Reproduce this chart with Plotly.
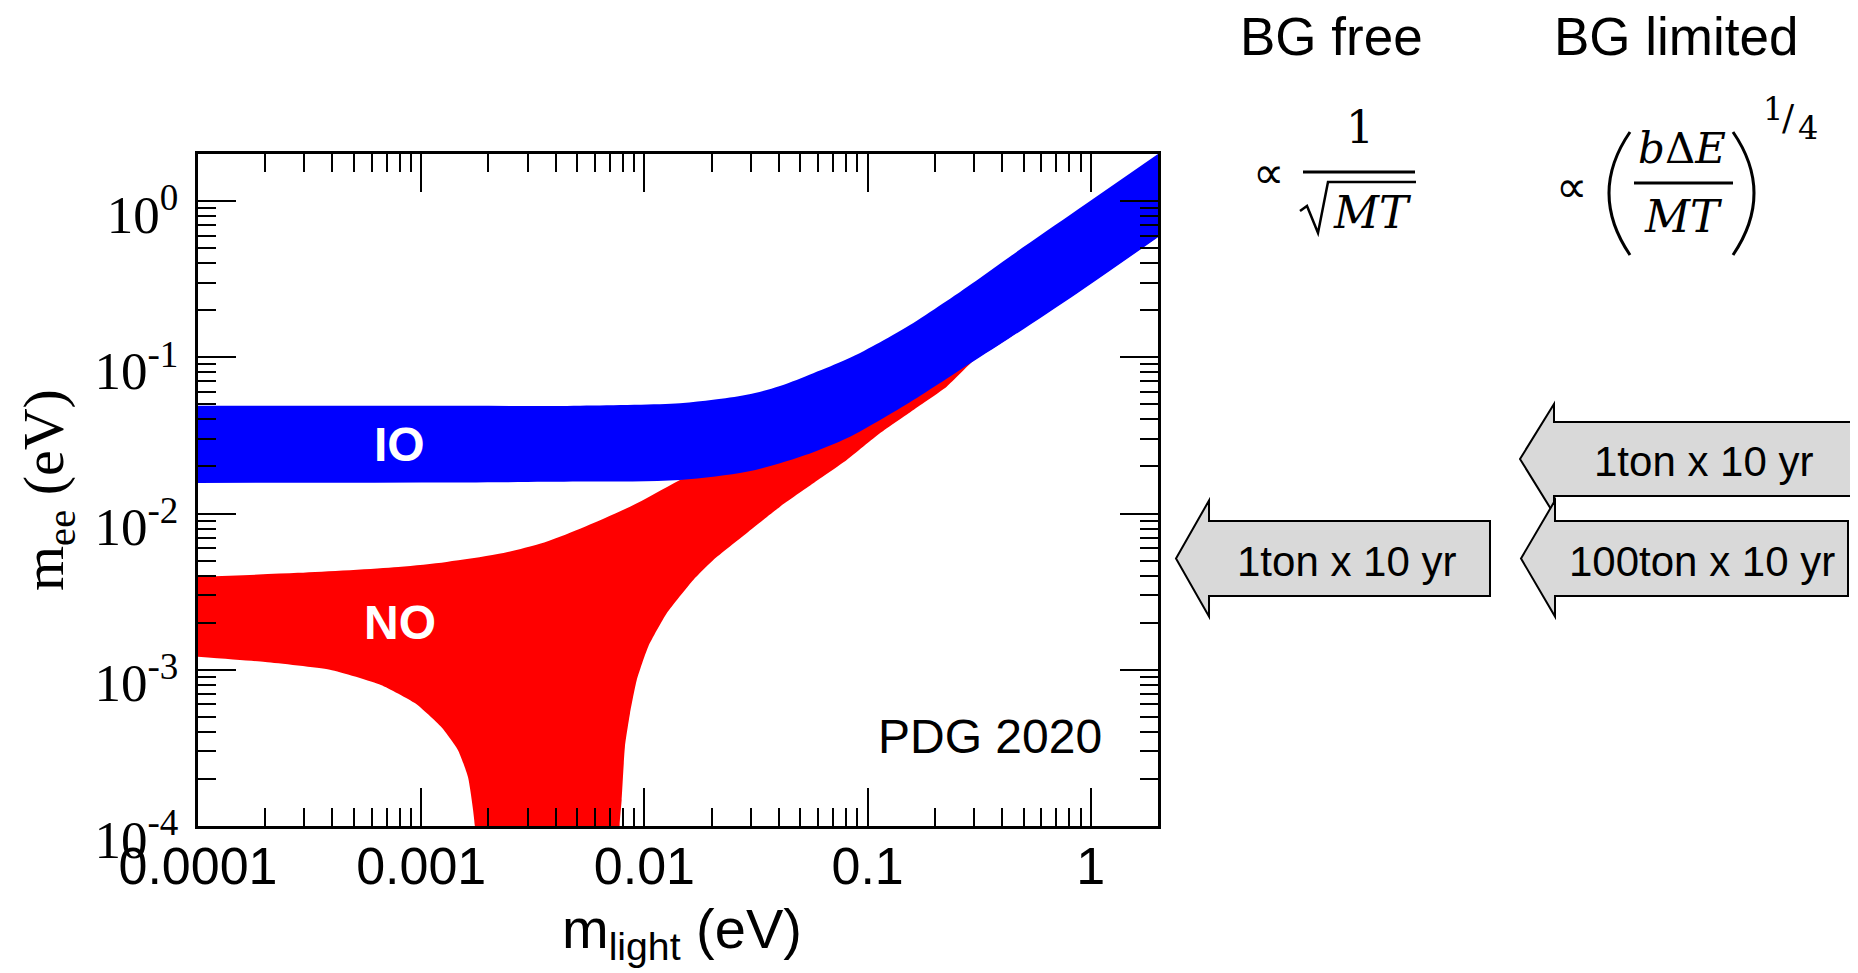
import math
import plotly.graph_objects as go

# ---------------- data ----------------
# Inverted ordering (IO) band: m_light (eV) -> m_ee bounds (eV)
io_x = [1e-4, 1e-3, 5.15e-3, 0.01443, 0.0203, 0.0287, 0.0405, 0.0571,
        0.0806, 0.1138, 0.1603, 0.226, 0.319, 0.44, 0.877, 2.0]
io_upper = [0.0489, 0.0489, 0.0490, 0.0508, 0.0534, 0.0575, 0.0655, 0.0791,
            0.0970, 0.125, 0.166, 0.229, 0.322, 0.447, 0.885, 2.0]
io_x_lo = [1e-4, 1e-3, 5.15e-3, 0.01443, 0.0287, 0.0405, 0.0571, 0.0806,
           0.1138, 0.1603, 0.226, 0.297, 0.392, 0.877, 2.0]
io_lower = [0.0157, 0.0158, 0.0160, 0.0164, 0.0185, 0.0210, 0.0247, 0.0303,
            0.0397, 0.0533, 0.0730, 0.094, 0.121, 0.259, 0.587]

# Normal ordering (NO) band: upper edge
no_up_x = [1e-4, 2.8e-4, 7.9e-4, 1.3e-3, 2.2e-3, 3.4e-3, 5.15e-3, 8.62e-3,
           0.01443, 0.0287, 0.0571, 0.1138, 0.226, 0.877, 2.0]
no_upper = [0.00393, 0.00417, 0.00455, 0.0049, 0.0055, 0.0064, 0.0080,
            0.01106, 0.0164, 0.028, 0.056, 0.11, 0.215, 0.87, 1.95]
# NO band lower edge (1e-6 = m_ee reaching zero, below the axis)
no_lo_x = [1e-4, 2e-4, 3.9e-4, 6.6e-4, 9.4e-4, 1.23e-3, 1.46e-3, 1.62e-3,
           1.74e-3, 1.78e-3, 7.6e-3, 7.74e-3, 7.91e-3, 8.18e-3, 8.62e-3,
           9.24e-3, 0.01041, 0.01259, 0.01656, 0.02036, 0.0287, 0.0405,
           0.0571, 0.0806, 0.1138, 0.1603, 0.226, 0.297, 0.392, 0.877, 2.0]
no_lower = [1.21e-3, 1.12e-3, 1.0e-3, 8.0e-4, 6.1e-4, 4.3e-4, 3.07e-4,
            2.06e-4, 1.0e-4, 1e-6, 1e-6, 1.0e-4, 1.47e-4, 3.22e-4, 5.27e-4,
            8.6e-4, 1.41e-3, 2.30e-3, 3.76e-3, 5.04e-3, 7.48e-3, 1.106e-2,
            1.56e-2, 2.2e-2, 3.27e-2, 4.6e-2, 6.48e-2, 0.0945, 0.122, 0.262,
            0.59]

x_tick_vals = [1e-4, 1e-3, 1e-2, 1e-1, 1]
x_tick_text = ["0.0001", "0.001", "0.01", "0.1", "1"]
y_tick_vals = [1, 1e-1, 1e-2, 1e-3, 1e-4]
y_tick_text = ["10<sup>0</sup>", "10<sup>-1</sup>", "10<sup>-2</sup>",
               "10<sup>-3</sup>", "10<sup>-4</sup>"]
axis_range = [1e-4, 2.0]

band_labels = ["IO", "NO"]
corner_label = "PDG 2020"
column_titles = ["BG free", "BG limited"]
arrow_labels = ["1ton x 10 yr", "1ton x 10 yr", "100ton x 10 yr"]

# ---------------- layout geometry (window pixels) ----------------
OFF = 8                      # default body margin of the html page
W, H = 1858 - OFF, 973 - OFF
L, R, T, B = 198, 1158, 154, 826   # plot frame in window pixels


def px(X):
    return (X - L) / (R - L)


def py(Y):
    return (B - Y) / (B - T)


minor_vals = [m * 10 ** e for e in range(-4, 1) for m in range(2, 10)]

fig = go.Figure()
common_trace = dict(mode="lines", hoverinfo="skip", showlegend=False)
fig.add_trace(go.Scatter(x=no_lo_x, y=no_lower,
                         line=dict(width=0, color="#ff0000", shape="spline",
                                   smoothing=0.5), **common_trace))
fig.add_trace(go.Scatter(x=no_up_x, y=no_upper, fill="tonexty",
                         fillcolor="#ff0000",
                         line=dict(width=0, color="#ff0000", shape="spline",
                                   smoothing=0.8), **common_trace))
fig.add_trace(go.Scatter(x=io_x_lo, y=io_lower,
                         line=dict(width=0, color="#0000ff", shape="spline",
                                   smoothing=0.9), **common_trace))
fig.add_trace(go.Scatter(x=io_x, y=io_upper, fill="tonexty",
                         fillcolor="#0000ff",
                         line=dict(width=0, color="#0000ff", shape="spline",
                                   smoothing=0.9), **common_trace))

axis_common = dict(
    type="log", showgrid=False, zeroline=False, showline=True,
    linecolor="black", linewidth=3, mirror="ticks", ticks="inside",
    ticklen=38, tickwidth=2, tickcolor="black",
    range=[math.log10(axis_range[0]), math.log10(axis_range[1])],
    minor=dict(tickvals=minor_vals, ticks="inside", ticklen=18,
               tickwidth=2, tickcolor="black", showgrid=False),
)

fig.update_xaxes(**axis_common, tickmode="array", tickvals=x_tick_vals,
                 ticktext=x_tick_text, ticklabelstandoff=-7,
                 tickfont=dict(family="Liberation Sans, Arial", size=52,
                               color="black"))
fig.update_yaxes(**axis_common, tickmode="array", tickvals=y_tick_vals,
                 ticktext=y_tick_text, ticklabelstandoff=6,
                 ticklabelshift=13,
                 tickfont=dict(family="Liberation Serif, Times New Roman",
                               size=53, color="black"))

ann = []


def text(X, Y, s, size, family="Liberation Sans, Arial", color="black",
         angle=0, xanchor="center", height=None):
    a = dict(x=px(X), y=py(Y), xref="paper", yref="paper", text=s,
             showarrow=False, xanchor=xanchor, yanchor="middle",
             textangle=angle,
             font=dict(family=family, size=size, color=color))
    if height:
        a["height"] = height
    ann.append(a)


# axis titles
text(682, 932, "m<sub>light</sub> (eV)", 56)
text(47, 490, "m<sub>ee</sub> (eV)", 58,
     family="Liberation Serif, Times New Roman", angle=-90)
# in-plot labels
text(399, 444, "<b>%s</b>" % band_labels[0], 48, color="white")
text(400, 622, "<b>%s</b>" % band_labels[1], 48, color="white")
text(990, 736, corner_label, 48)
# column titles
text(1331, 36, column_titles[0], 53, height=54)
text(1676, 36, column_titles[1], 53, height=54)

serif = "DejaVu Serif"
# formula 1:  ∝ 1/sqrt(MT)
text(1268, 172, "∝", 44, family="DejaVu Sans")
text(1360, 128, "1", 44, family=serif)
text(1372, 212, "<i>MT</i>", 44, family=serif)
# formula 2:  ∝ (bΔE/MT)^(1/4)
text(1571, 186, "∝", 44, family="DejaVu Sans")
text(1682, 148, "<i>b</i>Δ<i>E</i>", 42, family=serif)
text(1683, 216, "<i>MT</i>", 44, family=serif)
text(1773, 109, "1", 32, family=serif)
text(1788, 118, "/", 36, family=serif)
text(1808, 128, "4", 32, family=serif)

# arrow labels
text(1346, 561, arrow_labels[0], 42)
text(1703, 461, arrow_labels[1], 42)
text(1702, 561, arrow_labels[2], 42)

shapes = []


def line(x0, y0, x1, y1, w=3):
    shapes.append(dict(type="line", xref="paper", yref="paper",
                       x0=px(x0), y0=py(y0), x1=px(x1), y1=py(y1),
                       line=dict(color="black", width=w)))


def path(pts, cmds, w=2.5, fill=None):
    s = ""
    for c, p in zip(cmds, pts):
        s += c + " " + " ".join("%.5f,%.5f" % (px(a), py(b)) for a, b in p) + " "
    d = dict(type="path", xref="paper", yref="paper", path=s.strip(),
             line=dict(color="black", width=w))
    if fill:
        d["fillcolor"] = fill
        d["path"] += " Z"
    shapes.append(d)


# fraction lines
line(1303, 172, 1415, 172)
line(1634, 183, 1733, 183)
# radical sign
path([[(1300, 211)], [(1307, 206)], [(1318, 233)], [(1328, 182)], [(1416, 182)]],
     ["M", "L", "L", "L", "L"], w=2.5)
# big parentheses
path([[(1630, 132)], [(1588, 193), (1630, 255)]], ["M", "Q"], w=3)
path([[(1733, 132)], [(1775, 193), (1733, 255)]], ["M", "Q"], w=3)


def arrow(tip, hb, right, cy, bh, hh):
    pts = [[(tip, cy)], [(hb, cy - hh)], [(hb, cy - bh)], [(right, cy - bh)],
           [(right, cy + bh)], [(hb, cy + bh)], [(hb, cy + hh)]]
    path(pts, ["M", "L", "L", "L", "L", "L", "L"], w=2, fill="#d9d9d9")


arrow(1176, 1209, 1490, 558.5, 37.5, 58)
arrow(1520, 1554, 1875, 459, 37, 55)
arrow(1521, 1555, 1848, 558.5, 37.5, 58)

fig.update_layout(
    width=W, height=H, autosize=False,
    margin=dict(l=L - OFF, r=W - (R - OFF), t=T - OFF, b=H - (B - OFF), pad=0),
    paper_bgcolor="white", plot_bgcolor="white",
    annotations=ann, shapes=shapes, showlegend=False,
)

fig.write_html("out.html")
